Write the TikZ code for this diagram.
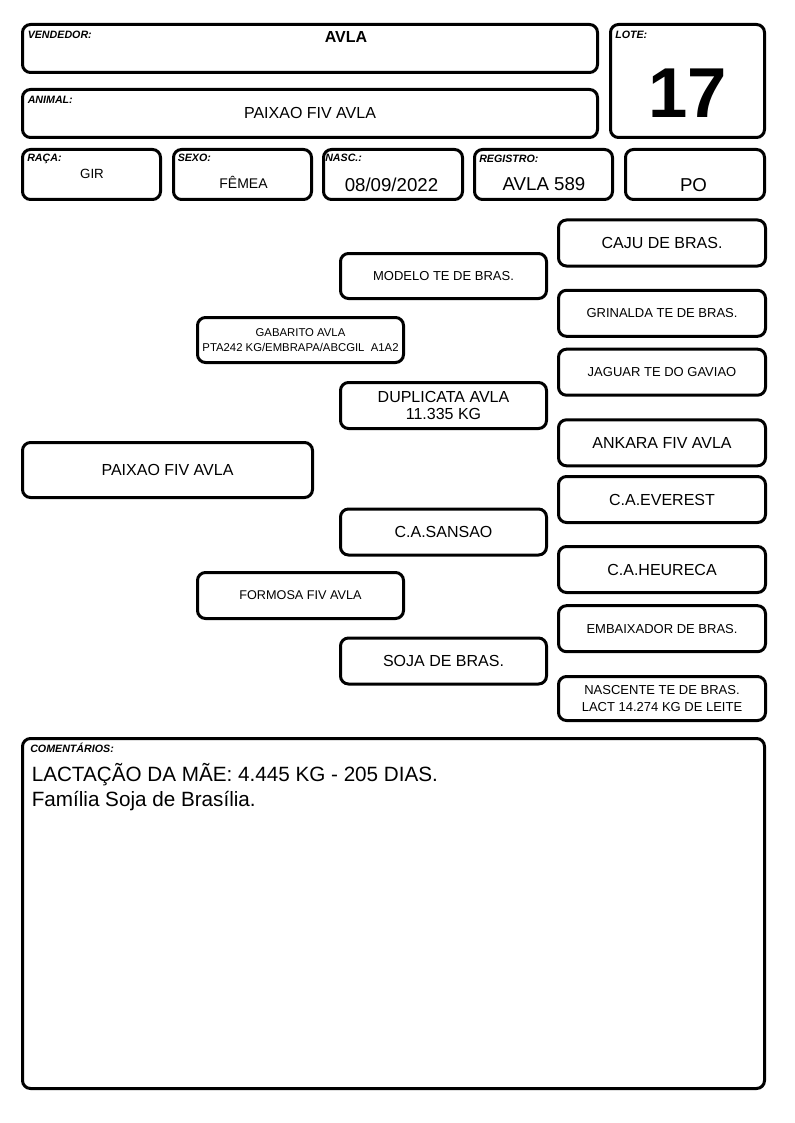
\documentclass[tikz,border=0pt]{standalone}
\usepackage{fontspec}
\setmainfont{Liberation Sans}
\usetikzlibrary{positioning}
\newcommand{\txtL}{\fontsize{12}{13}\selectfont}
\newcommand{\txtM}{\fontsize{9.75}{12.5}\selectfont}
\newcommand{\txtS}{\fontsize{8.5}{11.25}\selectfont}
\newcommand{\txtH}{\fontsize{14}{16}\selectfont}
\tikzset{
  block/.style={draw, line width=2.25pt, rounded corners=6pt, fill=white, inner sep=1pt, align=center, font=\txtL},
  sz/.style 2 args={minimum width={(#1)*0.75pt}, minimum height={(#2)*0.75pt}},
  tag/.style={anchor=base west, inner sep=0pt, font=\fontsize{8}{9}\selectfont\bfseries\itshape},
  val/.style={anchor=base, inner sep=0pt},
}

\begin{document}
\begin{tikzpicture}[x=0.75pt, y=-0.75pt]
    \useasboundingbox (0,0) rectangle (794,1123);
    % header
    \node[block, sz={575}{48}] (vend) at (310,48.5) {};
    \node[block, sz={575}{48}] (anim) at (310,113.5) {};
    \node[block, sz={154}{113}] (lote) at (687.5,81) {};
    \node[block, sz={138}{50}] (raca) at (91.5,174.5) {};
    \node[block, sz={138}{50}] (sexo) at (242.5,174.5) {};
    \node[block, sz={139}{50}] (nasc) at (393,174.5) {};
    \node[block, sz={138}{50}] (reg) at (543.5,174.5) {};
    \node[block, sz={139}{50}] (po) at (695,174.5) {};
    \node[tag] (tvend) at (27.5,39) {VENDEDOR:};
    \node[tag] (tanim) at (27.5,103.5) {ANIMAL:};
    \node[tag] (tlote) at (615,38.5) {LOTE:};
    \node[tag] (traca) at (27,162) {RAÇA:};
    \node[tag] (tsexo) at (177.5,162) {SEXO:};
    \node[tag] (tnasc) at (325,162) {NASC.:};
    \node[tag] (treg) at (479,163) {REGISTRO:};
    \node[val, font=\txtL\bfseries] (vvend) at (346,42.7) {AVLA};
    \node[val, font=\txtL] (vanim) at (310,119) {PAIXAO FIV AVLA};
    \node[val, font=\fontsize{53}{60}\selectfont\bfseries] (vlote) at (687.5,117.7) {17};
    \node[val, font=\fontsize{10}{12}\selectfont] (vraca) at (92,178.3) {GIR};
    \node[val, font=\fontsize{10.5}{12}\selectfont] (vsexo) at (243.5,189) {FÊMEA};
    \node[val, font=\txtH] (vnasc) at (391.5,191.7) {08/09/2022};
    \node[val, font=\txtH] (vreg) at (544,191) {AVLA 589};
    \node[val, font=\txtH] (vpo) at (693.5,191.5) {PO};
    % pedigree
    \node[block, sz={290}{55}] (animal) at (167.5,470) {PAIXAO FIV AVLA};
    \node[block, sz={206}{45}, font=\txtS] (pai) at (300.5,340) {GABARITO AVLA\\PTA242 KG/EMBRAPA/ABCGIL~~A1A2};
    \node[block, sz={206}{46}, font=\fontsize{9.5}{12}\selectfont] (mae) at (300.5,595.5) {FORMOSA FIV AVLA};
    \node[block, sz={206}{45}, font=\txtM] (avo1) at (443.5,276) {MODELO TE DE BRAS.};
    \node[block, sz={206}{46}] (avo2) at (443.5,405.5) {DUPLICATA AVLA\\11.335 KG};
    \node[block, sz={206}{46}] (avo3) at (443.5,532) {C.A.SANSAO};
    \node[block, sz={206}{46}] (avo4) at (443.5,661) {SOJA DE BRAS.};
    \node[block, sz={207}{46}] (bis1) at (662,243) {CAJU DE BRAS.};
    \node[block, sz={207}{46}, font=\txtM] (bis2) at (662,313.3) {GRINALDA TE DE BRAS.};
    \node[block, sz={207}{46}, font=\txtM] (bis3) at (662,372.2) {JAGUAR TE DO GAVIAO};
    \node[block, sz={207}{46}] (bis4) at (662,442.8) {ANKARA FIV AVLA};
    \node[block, sz={207}{46}] (bis5) at (662,499.5) {C.A.EVEREST};
    \node[block, sz={207}{46}] (bis6) at (662,569.5) {C.A.HEURECA};
    \node[block, sz={207}{46}, font=\txtM] (bis7) at (662,628.7) {EMBAIXADOR DE BRAS.};
    \node[block, sz={207}{44}, font=\txtM] (bis8) at (662,698.5) {NASCENTE TE DE BRAS.\\LACT 14.274 KG DE LEITE};
    % comentarios
    \node[block, sz={742}{350}] (coment) at (393.5,913.5) {};
    \node[tag] (tcoment) at (30,752.7) {COMENTÁRIOS:};
    \node[val, anchor=base west, font=\fontsize{15.5}{18}\selectfont] (linha1) at (31.5,781.5) {LACTAÇÃO DA MÃE: 4.445 KG - 205 DIAS.};
    \node[val, anchor=base west, font=\fontsize{15.5}{18}\selectfont] (linha2) at (31.5,806.5) {Família Soja de Brasília.};
\end{tikzpicture}
\end{document}
